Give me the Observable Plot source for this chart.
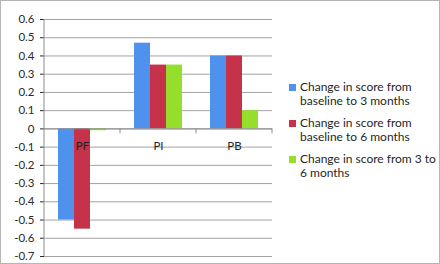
<!DOCTYPE html>
<html>
<head>
<meta charset="utf-8">
<script src="https://cdn.jsdelivr.net/npm/d3@7"></script>
<script src="https://cdn.jsdelivr.net/npm/@observablehq/plot@0.6"></script>
<style>
  html, body { margin: 0; padding: 0; background: #fff; }
  #wrap { position: relative; width: 440px; height: 264px; overflow: hidden; font-family: Lato, "Open Sans", sans-serif; }
  #wrap svg { position: absolute; left: 0; top: 0; }
  #border { position: absolute; left: 0; top: 0; width: 440px; height: 264px; box-sizing: border-box; border: 1px solid #b5b5b5; pointer-events: none; }
  #legend { position: absolute; left: 289px; top: 80px; font-size: 12px; line-height: 14px; color: #1f1f1f; }
  .item { position: relative; padding-left: 11px; margin-bottom: 8px; }
  .sw { position: absolute; left: 0; top: 4px; width: 7px; height: 7px; }
</style>
</head>
<body>
<div id="wrap"><div id="legend"></div><div id="border"></div></div>
<script>
const categories = ["PF", "PI", "PB"];
const series = [
  "Change in score from baseline to 3 months",
  "Change in score from baseline to 6 months",
  "Change in score from 3 to 6 months"
];
const colors = ["#4e92ee", "#c6324a", "#95df2c"];
const base3 = [-0.50, 0.47, 0.40];
const base6 = [-0.55, 0.35, 0.40];
const from3to6 = [-0.01, 0.35, 0.10];
const yTicks = [0.6, 0.5, 0.4, 0.3, 0.2, 0.1, 0, -0.1, -0.2, -0.3, -0.4, -0.5, -0.6, -0.7];

const valuesBySeries = [base3, base6, from3to6];
const data = [];
categories.forEach((c, i) => {
  series.forEach((s, j) => data.push({category: c, series: s, value: valuesBySeries[j][i]}));
});

const fmt = d => d === 0 ? "0" : d.toFixed(1);

const plot = Plot.plot({
  width: 440,
  height: 264,
  marginLeft: 43,
  marginRight: 167,
  marginTop: 19,
  marginBottom: 8,
  style: {fontSize: "11.5px", fontFamily: "Lato, 'Open Sans', sans-serif", color: "#2a2a2a", background: "transparent", overflow: "visible"},
  fx: {domain: categories, padding: 0, axis: null},
  x: {domain: series, paddingInner: 0, paddingOuter: 0.76, axis: null},
  y: {domain: [-0.7, 0.6], ticks: yTicks, tickFormat: fmt, tickSize: 4, tickPadding: 6, label: null},
  color: {domain: series, range: colors},
  marks: [
    Plot.ruleY(yTicks, {stroke: "#a3a3a3", strokeWidth: 1}),
    Plot.barY(data, {fx: "category", x: "series", y: "value", fill: "series"}),
    Plot.ruleY([0], {stroke: "#8c8c8c", strokeWidth: 1}),
    Plot.text(categories, {fx: d => d, text: d => d, y: 0, dy: 17, fill: "#1f1f1f", fontSize: 11.5})
  ]
});

document.getElementById("wrap").prepend(plot);

// axis line and category separator ticks, positioned through the plot's scales
const fxS = plot.scale("fx");
const yS = plot.scale("y");
const bw = fxS.bandwidth !== undefined ? fxS.bandwidth : (fxS.range[1] - fxS.range[0]) / categories.length;
const svg = d3.select(plot);
const y0 = yS.apply(0);
const left = fxS.apply(categories[0]);
svg.append("line")
  .attr("x1", left).attr("x2", left)
  .attr("y1", yS.apply(0.6)).attr("y2", yS.apply(-0.7))
  .attr("stroke", "#8c8c8c");
categories.forEach(c => {
  const xr = fxS.apply(c) + bw;
  svg.append("line")
    .attr("x1", xr).attr("x2", xr)
    .attr("y1", y0).attr("y2", y0 + 5)
    .attr("stroke", "#8c8c8c");
});

const legend = d3.select("#legend");
const legendLines = [
  ["Change in score from", "baseline to 3 months"],
  ["Change in score from", "baseline to 6 months"],
  ["Change in score from 3 to", "6 months"]
];
series.forEach((s, i) => {
  const item = legend.append("div").attr("class", "item");
  item.append("div").attr("class", "sw").style("background", colors[i]);
  item.append("div").html(legendLines[i].join("<br>"));
});
</script>
</body>
</html>
